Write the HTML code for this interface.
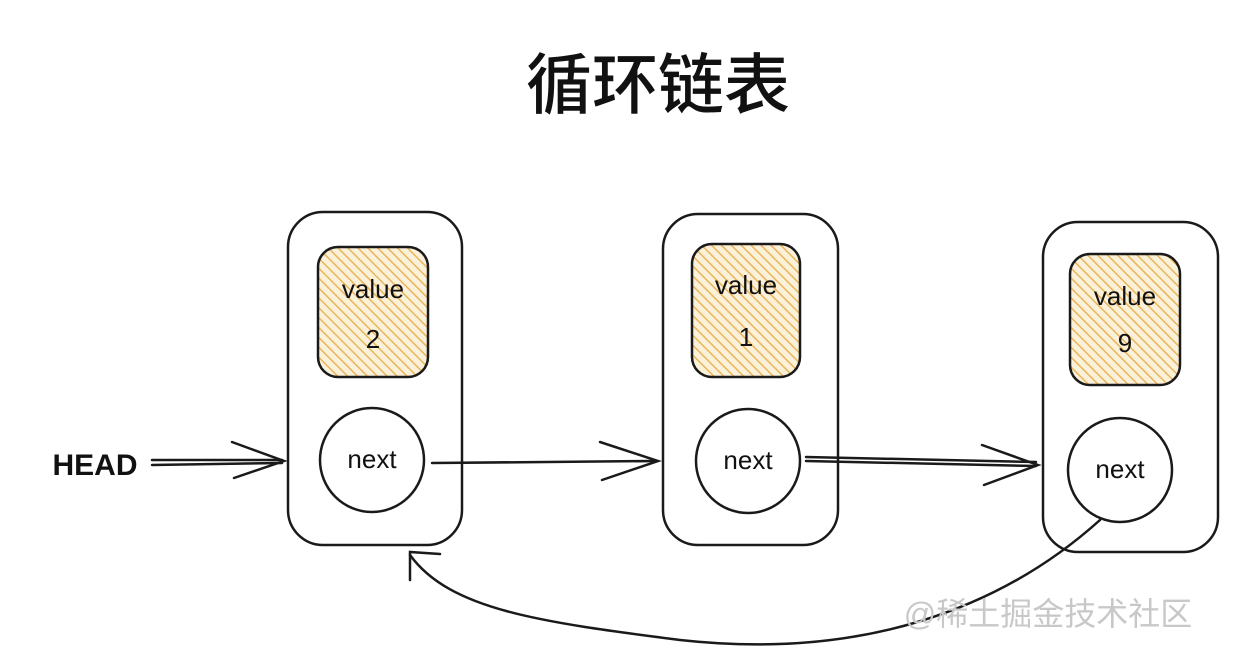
<!DOCTYPE html>
<html><head><meta charset="utf-8"><style>
html,body{margin:0;padding:0;background:#fff;}
svg{display:block}
text{font-family:"Liberation Sans","Noto Sans CJK SC",sans-serif;}
</style></head><body>
<svg width="1256" height="670" viewBox="0 0 1256 670" xmlns="http://www.w3.org/2000/svg">
<defs>
<pattern id="hat" width="7" height="7" patternUnits="userSpaceOnUse" patternTransform="rotate(-45)">
<rect width="7" height="7" fill="#fbf0d8"/>
<line x1="0" y1="0" x2="0" y2="7" stroke="#e9b55c" stroke-width="3"/>
</pattern>
</defs>
<text x="658" y="108" font-size="66" font-weight="500" text-anchor="middle" fill="#111" style="font-family:'Noto Sans CJK SC',sans-serif">循环链表</text>
<g fill="none" stroke="#1a1a1a" stroke-width="2.5">
<rect x="288" y="212" width="174" height="333" rx="35"/>
<rect x="663" y="214" width="175" height="331" rx="35"/>
<rect x="1043" y="222" width="175" height="330" rx="35"/>
</g>
<g stroke="#1a1a1a" stroke-width="2.5" fill="url(#hat)">
<rect x="318" y="247" width="110" height="130" rx="20"/>
<rect x="692" y="244" width="108" height="133" rx="20"/>
<rect x="1070" y="254" width="110" height="131" rx="20"/>
</g>
<g fill="#fff" stroke="#1a1a1a" stroke-width="2.5">
<circle cx="372" cy="460" r="52"/>
<circle cx="748" cy="461" r="52"/>
<circle cx="1120" cy="470" r="52"/>
</g>
<g font-size="26" text-anchor="middle" fill="#111">
<text x="373" y="298">value</text><text x="373" y="348">2</text>
<text x="746" y="294">value</text><text x="746" y="346">1</text>
<text x="1125" y="305">value</text><text x="1125" y="352">9</text>
<text x="372" y="468">next</text>
<text x="748" y="469">next</text>
<text x="1120" y="478">next</text>
<text x="95" y="475" font-size="30" font-weight="bold">HEAD</text>
</g>
<g fill="none" stroke="#1a1a1a" stroke-width="2.5" stroke-linecap="round">
<line x1="152" y1="460" x2="282" y2="460"/><line x1="152" y1="465" x2="282" y2="463"/>
<path d="M232 442 L284 461 L234 478"/>
<line x1="432" y1="463" x2="656" y2="461"/>
<path d="M600 442 L658 461 L602 480"/>
<line x1="806" y1="461" x2="1036" y2="466"/><line x1="806" y1="457" x2="1036" y2="462"/>
<path d="M982 445 L1038 465 L984 485"/>
<path d="M1100 520 C1000 610 860 660 680 640 C540 622 450 610 410 555"/>
<path d="M440 554 L410 552 L410 580"/>
</g>
<text x="1048" y="625" font-size="32" text-anchor="middle" fill="#c8c8c8">@稀土掘金技术社区</text>
</svg>
</body></html>
